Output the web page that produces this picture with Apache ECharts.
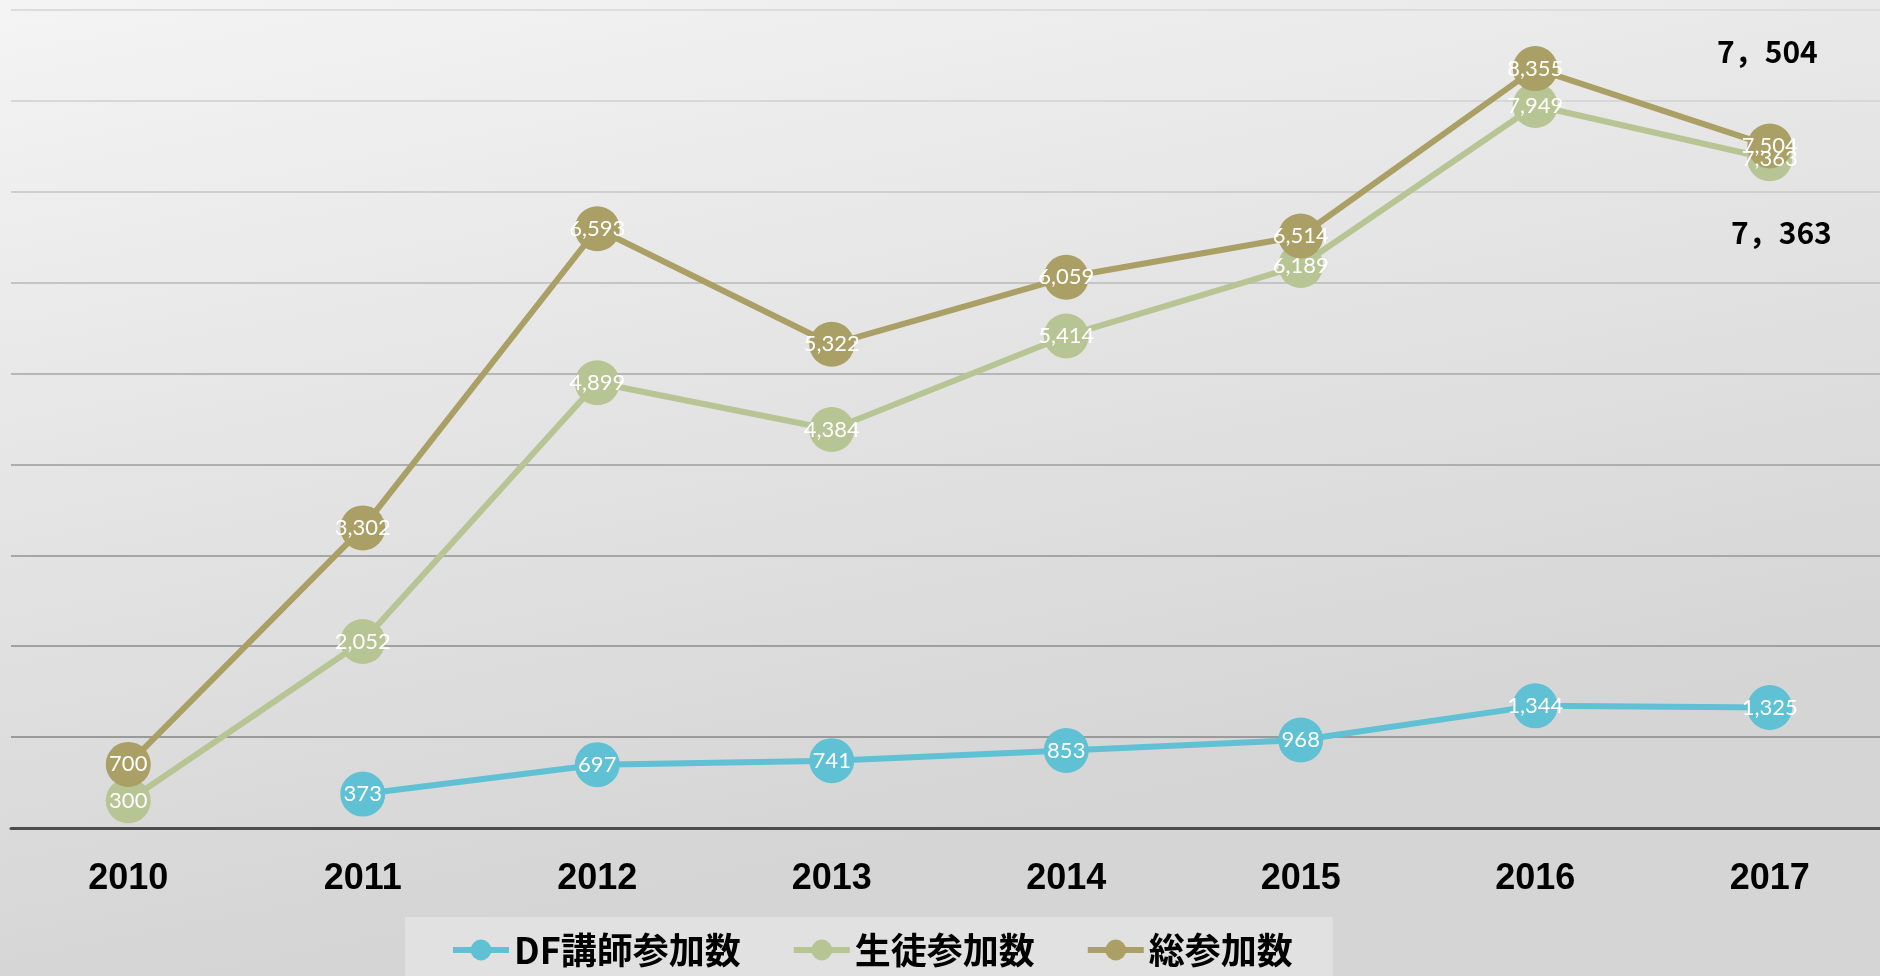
<!DOCTYPE html>
<html lang="ja">

<head>
    <meta charset="UTF-8">
    <title>参加数の推移</title>
    <script src="https://cdn.jsdelivr.net/npm/echarts@6/dist/echarts.min.js"></script>
    <style>
        html, body {
            margin: 0;
            padding: 0;
        }
        #myChart {
            width: 1880px;
            height: 976px;
        }
    </style>
</head>

<body>
    <div id="myChart"></div>
    <script>
        // data
        var years = ['2010', '2011', '2012', '2013', '2014', '2015', '2016', '2017'];
        var teachers = ['-', 373, 697, 741, 853, 968, 1344, 1325];
        var students = [300, 2052, 4899, 4384, 5414, 6189, 7949, 7363];
        var totals = [700, 3302, 6593, 5322, 6059, 6514, 8355, 7504];
        var seriesNames = ['DF講師参加数', '生徒参加数', '総参加数'];
        var colors = ['#5fc1d3', '#b6c593', '#aa9f65'];
        // callout texts at the top right
        var notes = ['7，504', '7，363'];

        // split lines get darker towards the bottom (index 0 = value 0)
        var gridColors = ['#999999', '#9a9a9a', '#a0a0a0', '#a6a6a6', '#aeaeae', '#b6b6b6',
            '#c4c4c4', '#cfcfcf', '#d7d7d7', '#dddddd'];

        var dom = document.getElementById('myChart');
        var myChart = echarts.init(dom);

        function makeSeries(name, data, color) {
            return {
                name: name,
                type: 'line',
                data: data,
                symbol: 'circle',
                symbolSize: 45,
                lineStyle: {
                    color: color,
                    width: 6
                },
                itemStyle: {
                    color: color
                },
                label: {
                    show: true,
                    position: 'inside',
                    color: '#fff',
                    fontSize: 22,
                    fontFamily: 'Lato',
                    formatter: function (p) {
                        return p.value.toLocaleString('en-US');
                    }
                },
                emphasis: {
                    disabled: true
                }
            };
        }

        var option = {
            animation: false,
            backgroundColor: {
                type: 'linear',
                x: 0, y: 0, x2: 0.1, y2: 1,
                colorStops: [
                    { offset: 0, color: '#f4f4f4' },
                    { offset: 1, color: '#d5d5d5' }
                ]
            },
            legend: {
                left: 405,
                top: 917,
                padding: [15, 40, 11, 45],
                itemGap: 50,
                itemWidth: 56,
                itemHeight: 26,
                backgroundColor: '#e1e1e1',
                lineStyle: {
                    width: 6
                },
                textStyle: {
                    fontSize: 36,
                    fontWeight: 'bold',
                    color: '#000',
                    fontFamily: 'Noto Sans CJK JP'
                },
                data: seriesNames
            },
            grid: {
                left: 11,
                top: 10,
                width: 1876,
                height: 818,
                containLabel: false,
                outerBoundsMode: 'none'
            },
            xAxis: {
                type: 'category',
                data: years,
                axisLine: {
                    lineStyle: {
                        color: '#4d4d4d',
                        width: 3
                    }
                },
                axisTick: {
                    show: false
                },
                axisLabel: {
                    margin: 33,
                    fontSize: 36,
                    fontWeight: 'bold',
                    color: '#000',
                    fontFamily: 'Liberation Sans'
                }
            },
            yAxis: {
                type: 'value',
                min: 0,
                max: 9000,
                interval: 1000,
                axisLabel: {
                    show: false
                },
                splitLine: {
                    lineStyle: {
                        color: gridColors,
                        width: 2
                    }
                }
            },
            graphic: [{
                type: 'text',
                left: 1717,
                top: 37,
                style: {
                    text: notes[0],
                    fontSize: 30,
                    fontWeight: 'bold',
                    fill: '#000',
                    fontFamily: 'Noto Sans CJK JP'
                }
            }, {
                type: 'text',
                left: 1731,
                top: 218,
                style: {
                    text: notes[1],
                    fontSize: 30,
                    fontWeight: 'bold',
                    fill: '#000',
                    fontFamily: 'Noto Sans CJK JP'
                }
            }],
            series: [
                makeSeries(seriesNames[0], teachers, colors[0]),
                makeSeries(seriesNames[1], students, colors[1]),
                makeSeries(seriesNames[2], totals, colors[2])
            ]
        };
        myChart.setOption(option);
    </script>
</body>

</html>
